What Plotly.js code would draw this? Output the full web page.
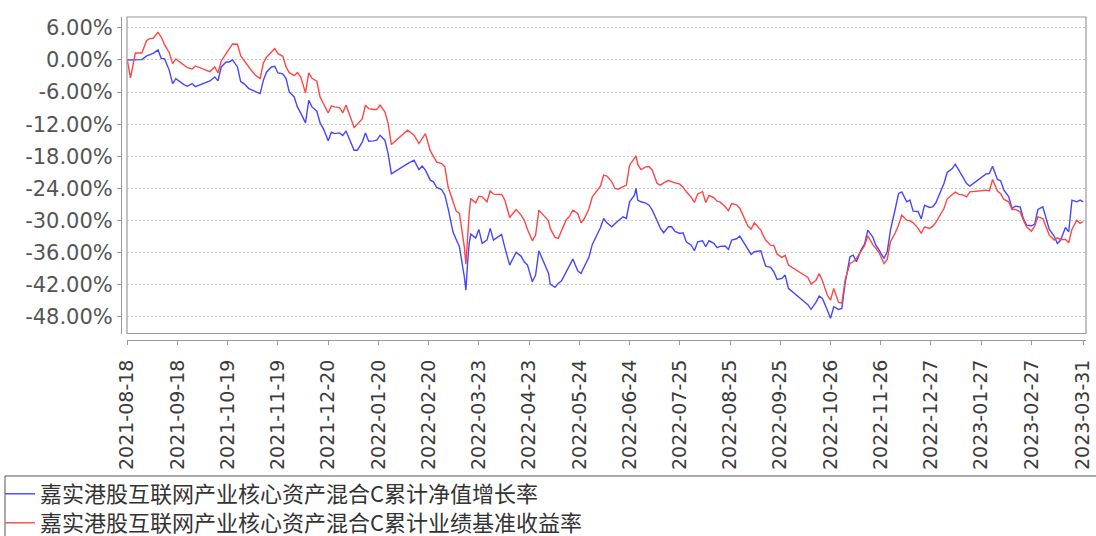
<!DOCTYPE html>
<html>
<head>
<meta charset="utf-8">
<script src="https://cdn.plot.ly/plotly-3.0.1.min.js"></script>
<style>
  html, body { margin: 0; padding: 0; background: #ffffff; }
  #chart { width: 1096px; height: 536px; }
</style>
</head>
<body>
<div id="chart"></div>
<script>
const seriesNames = [
  '嘉实港股互联网产业核心资产混合C累计净值增长率',
  '嘉实港股互联网产业核心资产混合C累计业绩基准收益率'
];

const dates = [
  '2021-08-18','2021-08-20','2021-08-23','2021-08-25','2021-08-27','2021-08-30',
  '2021-09-01','2021-09-03','2021-09-06','2021-09-08','2021-09-10','2021-09-13','2021-09-15','2021-09-17','2021-09-22','2021-09-24','2021-09-27','2021-09-29',
  '2021-10-08','2021-10-11','2021-10-13','2021-10-15','2021-10-18','2021-10-20','2021-10-22','2021-10-25','2021-10-27','2021-10-29',
  '2021-11-01','2021-11-03','2021-11-05','2021-11-08','2021-11-10','2021-11-12','2021-11-15','2021-11-17','2021-11-19','2021-11-22','2021-11-24','2021-11-26','2021-11-29',
  '2021-12-01','2021-12-03','2021-12-06','2021-12-08','2021-12-10',
  '2021-12-13','2021-12-15','2021-12-17','2021-12-20','2021-12-22','2021-12-24','2021-12-27','2021-12-29','2021-12-31',
  '2022-01-05','2022-01-07','2022-01-10','2022-01-12','2022-01-14','2022-01-17','2022-01-19','2022-01-21','2022-01-24','2022-01-26','2022-01-28',
  '2022-02-07','2022-02-09','2022-02-11','2022-02-14','2022-02-16','2022-02-18','2022-02-21','2022-02-23','2022-02-25','2022-02-28',
  '2022-03-02','2022-03-04','2022-03-07','2022-03-09','2022-03-11','2022-03-14','2022-03-15','2022-03-16','2022-03-17','2022-03-18','2022-03-21','2022-03-23','2022-03-25','2022-03-28','2022-03-30',
  '2022-04-01','2022-04-06','2022-04-08',
  '2022-04-11','2022-04-13','2022-04-15','2022-04-18','2022-04-20','2022-04-22','2022-04-25','2022-04-27','2022-04-29',
  '2022-05-05','2022-05-06','2022-05-09','2022-05-11','2022-05-13','2022-05-16','2022-05-18','2022-05-20','2022-05-23','2022-05-25','2022-05-27','2022-05-30',
  '2022-06-01','2022-06-06','2022-06-08','2022-06-10','2022-06-13','2022-06-15','2022-06-17','2022-06-20','2022-06-22','2022-06-24','2022-06-27','2022-06-28','2022-06-29',
  '2022-07-01','2022-07-04','2022-07-06','2022-07-08','2022-07-11','2022-07-13','2022-07-15','2022-07-18','2022-07-20','2022-07-22','2022-07-25','2022-07-27','2022-07-29',
  '2022-08-01','2022-08-03','2022-08-05','2022-08-08',
  '2022-08-10','2022-08-12','2022-08-15','2022-08-17','2022-08-19','2022-08-22','2022-08-24','2022-08-26','2022-08-29','2022-08-31',
  '2022-09-02','2022-09-05','2022-09-07','2022-09-09','2022-09-13','2022-09-14','2022-09-16','2022-09-19','2022-09-21','2022-09-23','2022-09-26','2022-09-28','2022-09-30',
  '2022-10-10','2022-10-12','2022-10-14','2022-10-17','2022-10-19','2022-10-21','2022-10-24','2022-10-26','2022-10-28','2022-10-31',
  '2022-11-02','2022-11-04','2022-11-07','2022-11-09','2022-11-11','2022-11-14','2022-11-16','2022-11-18','2022-11-21','2022-11-23','2022-11-25','2022-11-28','2022-11-30',
  '2022-12-02','2022-12-05','2022-12-07',
  '2022-12-09','2022-12-12','2022-12-14','2022-12-16','2022-12-19','2022-12-21','2022-12-23','2022-12-26','2022-12-28','2022-12-30',
  '2023-01-04','2023-01-06','2023-01-09','2023-01-11','2023-01-13','2023-01-16','2023-01-18','2023-01-20','2023-01-30',
  '2023-02-01','2023-02-03','2023-02-06','2023-02-08','2023-02-10','2023-02-13','2023-02-15','2023-02-17','2023-02-20','2023-02-22','2023-02-24','2023-02-27',
  '2023-03-01','2023-03-03','2023-03-06','2023-03-08','2023-03-10','2023-03-13','2023-03-15','2023-03-17','2023-03-20','2023-03-22','2023-03-24','2023-03-27','2023-03-29','2023-03-31'
];

// 累计净值增长率 (%)
const navGrowth = [
  0,0,0,0,0.06,0.75,
  1.00,1.24,1.87,0.25,0.25,-1.99,-4.42,-3.49,-4.61,-4.92,-4.42,-4.98,
  -3.92,-3.17,-3.92,-1.31,-0.37,-0.37,0,-1.31,-4.05,-4.42,
  -5.35,-5.66,-5.98,-6.29,-3.80,-2.24,-1.31,-1.18,-2.43,-2.61,-3.49,-5.98,-6.91,
  -8.78,-9.90,-11.76,-7.53,-8.78,
  -9.58,-11.76,-12.82,-15.12,-13.51,-13.76,-13.63,-14.13,-13.26,
  -16.87,-16.87,-15.37,-13.63,-15.19,-15.12,-15.00,-14.07,-15.00,-17.49,-21.29,
  -19.36,-19.05,-18.73,-20.48,-19.85,-20.60,-22.47,-22.78,-23.84,-24.21,
  -25.27,-27.76,-32.12,-33.55,-34.92,-40.52,-43.01,-38.03,-34.29,-32.55,-33.30,-31.68,-34.29,-33.67,-31.49,
  -33.67,-32.61,-35.04,
  -38.34,-37.10,-35.97,-36.66,-37.72,-38.34,-41.45,-40.21,-35.66,
  -39.90,-41.89,-42.51,-41.76,-41.27,-39.40,-38.15,-37.22,-39.40,-39.90,-38.65,-36.78,
  -34.48,-31.37,-29.63,-30.44,-31.18,-30.56,-30.06,-29.32,-29.63,-26.51,-25.27,-24.02,-26.20,
  -26.51,-26.76,-27.14,-28.07,-30.06,-31.43,-32.30,-31.18,-31.18,-32.05,-32.43,-32.30,-33.98,
  -34.61,-35.66,-33.98,-33.80,
  -34.92,-33.80,-34.29,-35.10,-34.85,-34.79,-35.41,-33.67,-33.42,-32.92,
  -33.98,-35.41,-36.35,-35.85,-35.66,-36.66,-38.53,-38.78,-39.58,-41.02,-40.83,-40.21,-42.70,
  -45.25,-45.75,-46.62,-45.31,-44.13,-44.56,-46.74,-48.30,-46.12,-46.62,
  -46.43,-41.76,-36.78,-36.47,-37.72,-35.41,-34.42,-31.80,-33.05,-34.61,-35.54,-37.10,-35.85,
  -31.80,-27.76,-24.96,
  -24.65,-26.51,-26.20,-28.26,-28.32,-29.69,-27.14,-27.57,-27.45,-26.70,
  -23.09,-21.04,-20.35,-19.48,-20.48,-22.16,-23.09,-23.59,-21.29,
  -21.22,-19.85,-22.34,-22.59,-24.34,-25.58,-27.76,-27.32,-27.45,-29.63,-30.87,-31.00,
  -30.68,-27.95,-27.45,-29.44,-31.68,-32.92,-34.29,-33.67,-31.31,-32.12,-26.20,-26.51,-26.20,-26.51
];

// 累计业绩基准收益率 (%)
const benchmark = [
  0,-3.36,1.31,1.31,1.31,3.67,
  3.98,4.05,5.17,4.29,2.86,1.31,-0.68,0.19,-0.87,-1.43,-1.68,-1.12,
  -2.18,-1.31,-2.43,-0.19,1.18,1.99,2.99,2.93,0.81,-0.06,
  -1.43,-2.12,-2.80,-3.49,-0.56,0.56,1.49,2.12,1.18,0.68,-1.31,-2.37,-2.93,
  -2.37,-3.17,-6.16,-2.43,-3.42,
  -3.98,-6.91,-8.15,-9.90,-8.59,-8.78,-8.90,-9.90,-8.40,
  -12.63,-12.01,-11.02,-8.46,-9.09,-9.27,-9.27,-8.46,-9.71,-11.89,-15.81,
  -13.13,-13.63,-14.07,-15.62,-14.56,-13.76,-16.99,-17.99,-19.11,-19.36,
  -19.98,-23.71,-26.70,-28.26,-28.69,-34.92,-38.15,-33.05,-28.69,-25.89,-26.70,-25.46,-25.58,-26.51,-24.46,
  -25.08,-25.14,-26.20,
  -29.44,-28.69,-27.95,-29.00,-29.94,-31.68,-33.80,-32.74,-28.07,
  -30.06,-31.49,-33.17,-33.36,-31.93,-29.81,-29.19,-28.07,-28.69,-30.44,-29.69,-27.76,
  -25.58,-23.59,-21.54,-21.72,-22.78,-24.02,-24.15,-23.71,-23.40,-19.67,-18.30,-17.93,-19.48,
  -20.48,-19.98,-19.92,-20.60,-23.09,-23.40,-22.97,-22.53,-22.78,-22.97,-23.22,-23.78,-24.65,
  -25.64,-26.64,-25.08,-24.58,
  -26.64,-25.33,-25.71,-26.39,-26.58,-27.45,-28.19,-26.83,-27.07,-27.70,
  -29.00,-31.06,-31.62,-30.44,-31.80,-32.55,-33.67,-34.61,-34.67,-36.29,-36.91,-36.53,-38.34,
  -40.39,-40.64,-41.89,-41.20,-39.90,-41.27,-43.94,-44.88,-42.70,-45.31,
  -45.44,-41.14,-38.03,-37.72,-37.10,-35.54,-34.73,-32.86,-34.48,-35.23,-36.04,-38.03,-37.28,
  -33.98,-32.30,-30.87,
  -29.00,-29.94,-30.06,-30.44,-31.43,-32.43,-31.18,-31.49,-31.12,-30.37,
  -27.76,-25.95,-25.21,-24.71,-25.08,-25.27,-25.58,-24.65,-24.34,
  -24.46,-22.34,-24.52,-25.02,-26.08,-26.51,-27.95,-27.95,-28.38,-29.94,-31.18,-31.99,
  -31.06,-29.32,-29.63,-31.18,-32.74,-33.67,-33.24,-33.55,-33.55,-34.17,-31.68,-29.94,-30.56,-30.19
];

const xTickDates = [
  '2021-08-18','2021-09-18','2021-10-19','2021-11-19','2021-12-20','2022-01-20','2022-02-20',
  '2022-03-23','2022-04-23','2022-05-24','2022-06-24','2022-07-25','2022-08-25','2022-09-25',
  '2022-10-26','2022-11-26','2022-12-27','2023-01-27','2023-02-27','2023-03-31'
];
const yTickVals = [6, 0, -6, -12, -18, -24, -30, -36, -42, -48];
const yTickText = yTickVals.map(v => v.toFixed(2) + '%');

const traces = [
  { type: 'scatter', mode: 'lines', x: dates, y: navGrowth, name: seriesNames[0],
    line: { color: '#4646ff', width: 1.4 }, legend: 'legend' },
  { type: 'scatter', mode: 'lines', x: dates, y: benchmark, name: seriesNames[1],
    line: { color: '#ff4646', width: 1.4 }, legend: 'legend2' }
];

const axisGray = '#9a9a9a';
const legendFont = { family: '"Noto Sans CJK SC", sans-serif', size: 22, color: '#333333' };
const layout = {
  width: 1096, height: 536,
  margin: { l: 121, r: 10, t: 17, b: 196, pad: 0, autoexpand: false },
  paper_bgcolor: '#ffffff', plot_bgcolor: '#ffffff',
  showlegend: true,
  xaxis: {
    type: 'date', domain: [0.0062, 1], anchor: 'free', position: 0, automargin: false,
    range: ['2021-08-17 20:00', '2023-04-01 16:00'],
    tickvals: xTickDates, ticktext: xTickDates, tickangle: -90,
    tickfont: { family: '"DejaVu Sans", sans-serif', size: 19, color: '#3a3a3a' },
    ticklabelstandoff: 7,
    ticks: 'outside', ticklen: 4, tickcolor: axisGray, tickwidth: 1,
    showline: true, linecolor: axisGray, linewidth: 1,
    showgrid: false, zeroline: false
  },
  yaxis: {
    domain: [0.0201, 1], anchor: 'free', position: 0, automargin: false,
    range: [-51.13, 8.03],
    tickvals: yTickVals, ticktext: yTickText,
    tickfont: { family: '"DejaVu Sans", sans-serif', size: 21, color: '#555555' },
    ticks: 'outside', ticklen: 4, tickcolor: axisGray, tickwidth: 1,
    showline: true, linecolor: axisGray, linewidth: 1,
    showgrid: true, gridcolor: '#c6c6c6', gridwidth: 1, griddash: '2px,2px',
    zeroline: false
  },
  legend: {
    xref: 'container', yref: 'container',
    x: 0, y: 1 - 494 / 536, xanchor: 'left', yanchor: 'middle',
    bgcolor: 'rgba(0,0,0,0)', borderwidth: 0, font: legendFont, itemwidth: 30
  },
  legend2: {
    xref: 'container', yref: 'container',
    x: 0, y: 1 - 523 / 536, xanchor: 'left', yanchor: 'middle',
    bgcolor: 'rgba(0,0,0,0)', borderwidth: 0, font: legendFont, itemwidth: 30
  },
  shapes: [
    { type: 'rect', xref: 'x domain', yref: 'y domain', x0: 0, x1: 1, y0: 0, y1: 1,
      line: { color: axisGray, width: 1.2 }, fillcolor: 'rgba(0,0,0,0)', layer: 'above' },
    { type: 'rect', xref: 'paper', yref: 'paper', x0: -0.1202, x1: 1.0145, y0: -0.62, y1: -0.421,
      line: { color: '#555555', width: 1 }, fillcolor: 'rgba(0,0,0,0)' }
  ]
};

Plotly.newPlot('chart', traces, layout, { staticPlot: true, displayModeBar: false });
</script>
</body>
</html>
